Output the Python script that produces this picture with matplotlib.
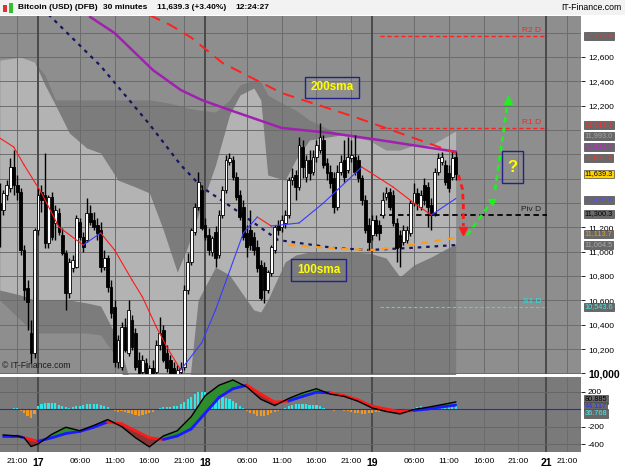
import numpy as np
import matplotlib
matplotlib.use("Agg")
import matplotlib.pyplot as plt
from matplotlib.patches import Rectangle
from matplotlib.transforms import blended_transform_factory

plt.rcParams['font.family'] = ['Liberation Sans', 'DejaVu Sans']

# 30 minute candles, index 0 = 17th 00:00, first candle at index -11
first_idx = -11
opens = [11400, 11343, 11466, 11524, 11696, 11548, 11491, 11014, 10702, 10332, 10168,
         11179, 11491, 11466, 11072, 11450, 11236, 11318, 11138, 10990, 10661, 10866,
         10874, 11244, 11121, 11096, 11318, 11261, 11220, 11179, 10874, 10949, 10710,
         10546, 10094, 10053, 10381, 10168, 10439, 10332, 10110, 10012, 10086, 9995,
         10045, 10012, 10234, 10357, 10168, 10110, 10045, 9979, 10012, 10053, 10685,
         10916, 11162, 11368, 11507, 11220, 11138, 10998, 11162, 10973, 11302, 11507,
         11737, 11754, 11614, 11466, 11368, 11154, 11179, 11121, 11039, 10891, 10874,
         10685, 10825, 11014, 11220, 11203, 11236, 11302, 11588, 11630, 11532, 11861,
         11614, 11754, 11655, 11778, 11836, 11918, 11729, 11655, 11606, 11368, 11655,
         11754, 11672, 11770, 11778, 11754, 11606, 11425, 11220, 11138, 11261, 11220,
         11302, 11450, 11491, 11466, 11236, 11138, 11080, 11096, 11154, 11400, 11483,
         11368, 11548, 11532, 11384, 11318, 11655, 11737, 11713, 11647, 11614, 11778]
highs = [11565, 11507, 11588, 11770, 11836, 11630, 11524, 11055, 10768, 10439, 11195,
         11524, 11548, 11811, 11466, 11491, 11384, 11359, 11195, 11014, 10949, 10973,
         11302, 11277, 11162, 11441, 11384, 11326, 11277, 11244, 11014, 10973, 10768,
         10603, 10316, 10422, 10455, 10603, 10480, 10373, 10176, 10151, 10127, 10069,
         10110, 10275, 10464, 10398, 10234, 10151, 10094, 10069, 10094, 10727, 10990,
         11195, 11400, 11655, 11548, 11277, 11195, 11129, 11211, 11343, 11540, 11795,
         11811, 11786, 11655, 11507, 11425, 11220, 11343, 11162, 11096, 10932, 10916,
         10850, 11055, 11220, 11261, 11302, 11343, 11614, 11688, 11672, 11943, 11918,
         11795, 11836, 11836, 11918, 12058, 11959, 11770, 11713, 11655, 11713, 11795,
         11918, 11943, 11918, 11959, 11795, 11630, 11466, 11277, 11302, 11302, 11261,
         11491, 11532, 11524, 11507, 11277, 11179, 11220, 11211, 11425, 11565, 11524,
         11507, 11606, 11573, 11441, 11688, 11811, 11819, 11754, 11713, 11819, 11819]
lows = [11039, 11302, 11425, 11491, 11466, 11425, 10973, 10603, 10357, 10086, 10127,
        11138, 11326, 11031, 11031, 11096, 11096, 11138, 10973, 10521, 10620, 10833,
        10866, 11096, 10998, 11080, 11220, 11179, 11096, 10833, 10850, 10669, 10455,
        10053, 10045, 10028, 10176, 10143, 10192, 10028, 9962, 9962, 9946, 9946,
        9946, 9979, 10192, 10094, 10012, 9962, 9946, 9946, 9979, 10028, 10653,
        10891, 11138, 11343, 11179, 11096, 10973, 10965, 10874, 10949, 11277, 11483,
        11713, 11588, 11425, 11261, 11096, 10957, 11014, 10973, 10833, 10603, 10579,
        10661, 10800, 10990, 11138, 11162, 11195, 11277, 11548, 11425, 11507, 11606,
        11573, 11588, 11630, 11737, 11811, 11688, 11588, 11524, 11318, 11343, 11630,
        11573, 11647, 11737, 11630, 11573, 11384, 11154, 11014, 11096, 11129, 11096,
        11277, 11425, 11343, 11211, 10916, 10874, 11055, 11072, 11129, 11376, 11343,
        11343, 11384, 11203, 11179, 11294, 11630, 11713, 11548, 11491, 11588, 11588]
closes = [11343, 11483, 11548, 11696, 11548, 11491, 11014, 10685, 10587, 10168, 11179,
          11466, 11425, 11072, 11450, 11121, 11343, 11162, 10990, 10661, 10916, 10932,
          11277, 11121, 11039, 11318, 11244, 11203, 11154, 10874, 10949, 10710, 10496,
          10094, 10275, 10381, 10192, 10521, 10217, 10053, 10003, 10110, 9995, 10045,
          9995, 10234, 10332, 10110, 10045, 10003, 9979, 10028, 10045, 10685, 10916,
          11179, 11368, 11573, 11195, 11121, 11014, 11113, 10949, 11302, 11507, 11754,
          11770, 11614, 11450, 11285, 11121, 11039, 11055, 11014, 10866, 10620, 10685,
          10833, 11039, 11203, 11179, 11261, 11302, 11588, 11614, 11532, 11877, 11696,
          11754, 11647, 11778, 11877, 11943, 11713, 11647, 11565, 11368, 11655, 11737,
          11614, 11778, 11795, 11655, 11606, 11425, 11179, 11080, 11261, 11154, 11154,
          11425, 11483, 11368, 11236, 11031, 11039, 11179, 11179, 11400, 11483, 11400,
          11466, 11425, 11368, 11302, 11655, 11770, 11778, 11573, 11524, 11770, 11639.3]

# short moving average (red when falling, blue when rising)
ma_idx = [-11, -7, -4, 1, 6, 13, 18, 22, 27, 30, 34, 37, 41, 47, 51, 59, 63, 67, 75, 82, 89, 93, 102, 108, 113, 120]
ma_val = [11934, 11861, 11713, 11483, 11203, 11055, 11154, 11014, 10768, 10628, 10381, 10217, 10028, 10250,
          10521, 11154, 11285, 11211, 11236, 11400, 11588, 11696, 11532, 11400, 11302, 11436.4]

purple_idx = [15, 22, 33, 41, 47, 55, 70, 84, 98, 113, 120]
purple_val = [12929, 12797, 12493, 12329, 12247, 12165, 12017, 11976, 11918, 11852, 11821.9]

sma200_idx = [32, 38, 44, 53, 70, 91, 108, 120]
sma200_val = [12945, 12863, 12760, 12551, 12304, 12107, 11934, 11811.3]

sma100_idx = [3, 18, 32, 41, 47, 56, 69, 85, 95, 107, 120]
sma100_val = [12950, 12526, 12048, 11713, 11532, 11359, 11096, 11031, 11014, 11031, 11055]

orange_idx = [72, 88, 97, 107, 120]
orange_val = [11055, 11022, 11014, 11055, 11113.7]

# band envelopes (light inner band, darker outer band)
band_idx = [-11, -5, -1, 2, 5, 9, 14, 18, 23, 28, 32, 36, 40, 43, 46, 51, 55, 58, 62, 64, 66, 71, 74, 78,
            87, 95, 100, 104, 108, 113, 120]
outer_up = [12575, 12600, 12559, 12452, 12247, 12247, 12247, 12247, 12247, 12247, 12247, 12230, 12206, 12181,
            12165, 12148, 12247, 12370, 12411, 12395, 12288, 12206, 12165, 12082, 11959, 11918, 11836, 11836,
            11877, 11877, 11993]
inner_up = [12575, 12600, 12559, 12370, 12206, 11976, 11852, 11811, 11588, 11532, 11483, 11179, 10833, 11039,
            11302, 11713, 12123, 12288, 12345, 12247, 11630, 11588, 11754, 11918, 11959, 11918, 11836, 11836,
            11877, 11877, 11993.0]
inner_lo = [10685, 10644, 10603, 10603, 10603, 10603, 10579, 10554, 10275, 9782, 9782, 9700, 9700, 9782,
            10603, 10874, 10809, 10685, 10521, 10505, 10603, 10916, 10973, 10998, 10998, 10990, 10948, 10792,
            10891, 10957, 11064.5]
outer_lo = [10603, 10439, 10332, 10332, 10332, 10332, 10332, 10316, 10110, 9618, 9453, 9453, 9453, 9535,
            9864, 9864, 9864, 9864, 9864, 9864, 9864, 9864, 9864, 9864, 9864, 9864, 9864, 9864, 9864, 9864, 9864]

# daily pivots
pivot_names = ['R2 D', 'R1 D', 'Piv D', 'S1 D']
pivot_vals = [12770.4, 12013.7, 11300.3, 10543.6]

# price tags on the right scale
tag_text = ['12,770.4', '12,013.7', '11,993.0', '11,821.9', '11,811.3', '11,639.3', '11,436.4',
            '11,300.3', '11,113.7', '11,064.5', '10,543.6']
tag_pos = [12773, 12042, 11951, 11861, 11770, 11639, 11425, 11310, 11146, 11055, 10546]
tag_col = ['#ff3030', '#ff3030', '#a8a8a8', '#b030c0', '#ff3030', 'black', '#5050ff',
           'black', '#ff9900', '#a8a8a8', '#40e8e8']
price_ticks = [12600, 12400, 12200, 11200, 11000, 10800, 10600, 10400, 10200, 10000]

# MACD panel
macd_idx = [-10, -6, -4, -2, 0, 4, 8, 12, 16, 20, 24, 28, 32, 36, 40, 44, 48, 52, 56, 60, 64, 68, 72,
            76, 80, 84, 88, 92, 96, 100, 104, 108, 112, 116, 120]
macd_val = [-296, -308, -328, -428, -400, -288, -208, -248, -188, -120, -200, -328, -432, -308, -248, -88,
            152, 272, 332, 252, 112, 40, 120, 184, 232, 170, 144, 88, 12, -28, -56, -4, 20, 50, 80.885]
signal_val = [-308, -308, -328, -348, -368, -328, -280, -256, -208, -148, -168, -248, -328, -348, -308, -228,
              -48, 132, 232, 272, 172, 80, 92, 144, 192, 184, 152, 104, 32, 0, -28, -16, 0, 24, 44.117]
hist_val = [-12, -14, -8, -4, 8, 10, -20, -45, -75, -100, -60,
            30, 55, 65, 70, 70, 65, 50, 35, 20, 15, 20, 30, 35, 45, 55, 60, 60, 55, 45, 30, 20,
            -10, -25, -30, -25, -30, -40, -55, -65, -75, -70, -60, -50, -30, -10, 10, 20, 25, 25, 30, 40,
            60, 80, 110, 140, 170, 190, 200, 195, 180, 170, 160, 150, 140, 125, 110, 90, 70, 40, 15,
            -20, -40, -60, -75, -80, -75, -65, -50, -35, -20, -10, 15, 30, 45, 55, 60, 60, 55, 50, 50,
            45, 30, 15, -5, -15, -20, -15, -10, -20, -25, -30, -40, -50, -60, -55, -45, -40, -35, -30,
            -25, -25, -30, -30, -25, -20, -15, -10, 5, 15, 25, 30, 25, 20, 25, 30, 35, 40, 40, 38, 37, 36.768]
macd_tags = ['80.885', '44.117', '36.768']
macd_tag_pos = [112, 30, -50]
macd_tag_col = ['black', '#3030ff', '#40f0f0']

time_ticks = [-6, 0, 12, 22, 32, 42, 48, 60, 70, 80, 90, 96, 108, 118, 128, 138, 146, 152]
time_labels = ['21:00', '17', '06:00', '11:00', '16:00', '21:00', '18', '06:00', '11:00', '16:00',
               '21:00', '19', '06:00', '11:00', '16:00', '21:00', '21', '21:00']
day_labels = ['17', '18', '19', '21']

W, H = 625, 469
fig = plt.figure(figsize=(W / 100, H / 100), dpi=100, facecolor='white')
ax = fig.add_axes([0, 1 - 374 / H, 581 / W, 358 / H])
mx = fig.add_axes([0, 1 - 452 / H, 581 / W, 75 / H])
fig.patches.append(Rectangle((0, 1 - 15 / H), 1, 15 / H, transform=fig.transFigure,
                             fc='#f2f2f2', ec='none', zorder=0))

xmin, xmax = -10.92, 156.0
ax.set_xlim(xmin, xmax)
ax.set_ylim(9995, 12937)
ax.set_facecolor('#8e8e8e')

# bands
ax.fill_between(band_idx, outer_lo, outer_up, color='#7c7c7c', lw=0, zorder=0.5)
ax.fill_between(band_idx, inner_lo, inner_up, color='#b3b3b3', lw=0, zorder=0.6)

# grid
for p in np.arange(10000, 12900, 200):
    ax.axhline(p, color='#6c6c6c', lw=0.7, zorder=0.8)
for t, lab in zip(time_ticks, time_labels):
    day = lab in day_labels
    for a in (ax, mx):
        a.axvline(t, color='#4a4a4a' if day else '#6c6c6c', lw=1.4 if day else 0.7, zorder=0.8)

# moving averages
ax.plot(sma100_idx, sma100_val, color='#16165e', lw=1.6, dashes=(1.6, 2.2), zorder=2)
ax.plot(orange_idx, orange_val, color='#ff9a1a', lw=1.6, dashes=(3, 3), zorder=2.1)
ax.plot(purple_idx, purple_val, color='#a020b0', lw=1.8, zorder=2)
ax.plot(sma200_idx, sma200_val, color='#ff2020', lw=1.4, dashes=(6, 4), zorder=2)

# candles
idx = np.arange(first_idx, first_idx + len(closes))
o, h, l, c = map(np.array, (opens, highs, lows, closes))
top = np.maximum(h, np.maximum(o, c))
bot = np.minimum(l, np.minimum(o, c))
ax.vlines(idx, bot, top, color='black', lw=1.0, zorder=3)
body_col = np.where(c >= o, 'white', 'black')
ax.bar(idx, np.maximum(np.abs(c - o), 8), bottom=np.minimum(o, c), width=0.8,
       color=body_col, edgecolor='black', linewidth=0.6, zorder=3.1)

for k in range(len(ma_idx) - 1):
    col = '#3a3aff' if ma_val[k + 1] > ma_val[k] else '#ff1a1a'
    ax.plot(ma_idx[k:k + 2], ma_val[k:k + 2], color=col, lw=0.8, zorder=3.5)

# pivots
piv_style = [('#ff2020', 1.0, (3, 2)), ('#ff2020', 1.0, (3, 2)), ('black', 1.3, (3, 2)), ('#30e0e0', 0.8, (3, 2))]
for name, val, (col, lw, ds) in zip(pivot_names, pivot_vals, piv_style):
    ax.plot([98.3, 146.3], [val, val], color=col, lw=lw, dashes=ds, zorder=2.5)
    ax.text(144.6, val + 18, name, color='#202020' if name == 'Piv D' else col,
            fontsize=6, ha='right', va='bottom', zorder=4)

# annotations
for txt, (x0, x1, y0, y1) in (('200sma', (76.7, 92.2, 12264, 12436)), ('100sma', (72.7, 88.5, 10760, 10940))):
    ax.add_patch(Rectangle((x0, y0), x1 - x0, y1 - y0, fc='none', ec='#22228a', lw=1.0, zorder=5))
    ax.text((x0 + x1) / 2, (y0 + y1) / 2, txt, color='#ffff00', fontsize=8.5, weight='bold',
            ha='center', va='center', zorder=5)
ax.add_patch(Rectangle((133.3, 11565), 6.1, 263, fc='none', ec='#22228a', lw=1.0, zorder=5))
ax.text(136.4, 11690, '?', color='#ffff00', fontsize=12, weight='bold', ha='center', va='center', zorder=5)

ax.plot([120.8, 121.9, 122.2, 122.2], [11630, 11520, 11400, 11210], color='#ff1a1a', lw=2, dashes=(2, 1.5), zorder=5)
ax.plot([122.2], [11170], marker='v', color='#ff1a1a', ms=6, zorder=5)
ax.plot([123.3, 130.0], [11137, 11400], color='#22ee22', lw=2, dashes=(2, 1.5), zorder=5)
ax.plot([130.3], [11420], marker=(3, 0, -60), color='#22ee22', ms=6, zorder=5)
ax.plot([131.3, 134.9], [11507, 12220], color='#22ee22', lw=2, dashes=(2, 1.5), zorder=5)
ax.plot([135.0], [12250], marker='^', color='#22ee22', ms=6, zorder=5)

ax.text(0.004, 0.012, '\u00a9 IT-Finance.com', transform=ax.transAxes, fontsize=6.2,
        color='#1a1a1a', ha='left', va='bottom', zorder=6)

# right price scale
ax.yaxis.tick_right()
ax.set_yticks(price_ticks)
ax.set_yticklabels([f'{v:,}' for v in price_ticks])
ax.tick_params(axis='y', length=3, width=0.6, pad=2, labelsize=6, colors='black')
for lab in ax.get_yticklabels():
    if lab.get_text() == '10,000':
        lab.set_fontweight('bold')
        lab.set_fontsize(7.5)
ax.set_xticks([])
tr = blended_transform_factory(ax.transAxes, ax.transData)
for txt, pos, col in zip(tag_text, tag_pos, tag_col):
    fc = '#ffd200' if txt == '11,639.3' else '#686868'
    ax.text(1.006, pos, txt, transform=tr, fontsize=5.3, color=col, ha='left', va='center',
            clip_on=False, zorder=10,
            bbox=dict(boxstyle='square,pad=0.12', fc=fc, ec='#4a4a4a', lw=0.5))
for s in ax.spines.values():
    s.set_visible(False)

# MACD
mx.set_xlim(xmin, xmax)
mx.set_ylim(-491, 366)
mx.set_facecolor('#7a7a7a')
for v in (200, -200, -400):
    mx.axhline(v, color='#666666', lw=0.7, zorder=0.8)
hcol = ['#33e6e6' if v >= 0 else '#f39a1e' for v in hist_val]
mx.bar(idx, hist_val, width=0.62, color=hcol, zorder=2)
mx.axhline(0, color='#2222ee', lw=0.8, zorder=2.2)
m = np.array(macd_val, float)
s = np.array(signal_val, float)
mx.fill_between(macd_idx, m, s, where=m >= s, interpolate=True, color='#2e8b2e', lw=0, zorder=3)
mx.fill_between(macd_idx, m, s, where=m < s, interpolate=True, color='#8b3434', lw=0, zorder=3)
for k in range(len(macd_idx) - 1):
    below = (m[k] + m[k + 1]) < (s[k] + s[k + 1])
    mx.plot(macd_idx[k:k + 2], s[k:k + 2], color='#ff1a1a' if below else '#1a1aff', lw=2.0,
            solid_capstyle='round', zorder=3.5)
mx.plot(macd_idx, m, color='black', lw=1.0, zorder=4)
mx.yaxis.tick_right()
mx.set_yticks([200, -200, -400])
mx.set_yticklabels(['200', '-200', '-400'])
mx.tick_params(axis='y', length=3, width=0.6, pad=2, labelsize=6)
mx.set_xticks(time_ticks)
mx.set_xticklabels(time_labels)
mx.tick_params(axis='x', length=0, pad=4, labelsize=6)
for lab in mx.get_xticklabels():
    if lab.get_text() in day_labels:
        lab.set_fontweight('bold')
        lab.set_fontsize(7.5)
trm = blended_transform_factory(mx.transAxes, mx.transData)
for txt, pos, col in zip(macd_tags, macd_tag_pos, macd_tag_col):
    mx.text(1.006, pos, txt, transform=trm, fontsize=5.3, color=col, ha='left', va='center',
            clip_on=False, zorder=10,
            bbox=dict(boxstyle='square,pad=0.12', fc='#686868', ec='#4a4a4a', lw=0.5))
for sp in mx.spines.values():
    sp.set_visible(False)

# header
hy = 1 - 7.5 / H
fig.text(18 / W, hy, 'Bitcoin (USD) (DFB)', fontsize=6.0, weight='bold', va='center')
fig.text(103 / W, hy, '30 minutes', fontsize=6.0, weight='bold', va='center')
fig.text(157 / W, hy, '11,639.3 (+3.40%)', fontsize=6.0, weight='bold', va='center')
fig.text(235 / W, hy, '12:24:27', fontsize=6.0, weight='bold', va='center')
fig.text(622 / W, hy, 'IT-Finance.com', fontsize=6.3, ha='right', va='center')
fig.patches.append(Rectangle((3 / W, 1 - 12 / H), 4 / W, 7 / H, transform=fig.transFigure,
                             fc='#e03030', ec='none'))
fig.patches.append(Rectangle((9 / W, 1 - 13 / H), 4 / W, 10 / H, transform=fig.transFigure,
                             fc='#30c030', ec='none'))

fig.savefig('out.png', dpi=100, facecolor='white')
